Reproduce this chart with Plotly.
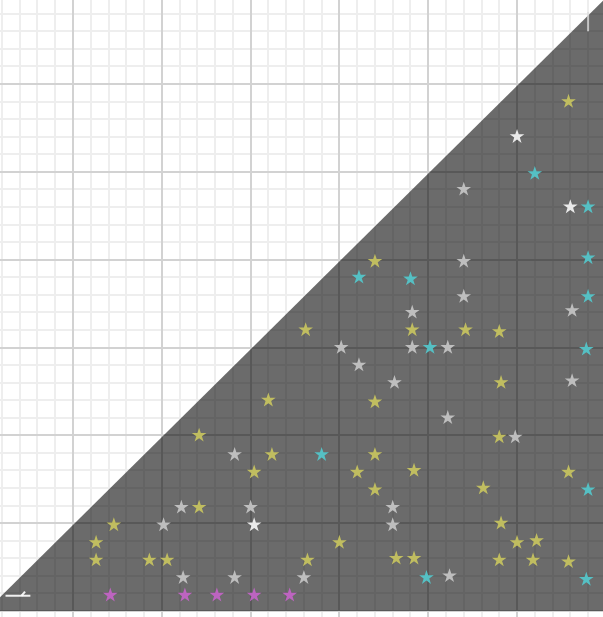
import plotly.graph_objects as go

# star positions (1 unit = one minor grid step)
yellow_x = [27.9, 17.0, 13.1, 19.1, 22.1, 24.0, 24.1, 11.0, 17.0, 7.1, 24.0, 11.2, 17.0, 10.2, 16.0, 19.2,
            27.9, 17.0, 23.1, 7.1, 2.3, 24.1, 1.3, 15.0, 25.0, 26.1, 1.3, 4.3, 5.3, 13.2, 18.2, 19.2,
            24.0, 25.9, 27.9]
yellow_y = [29.0, 19.9, 16.0, 16.0, 16.0, 15.9, 13.0, 12.0, 11.9, 10.0, 9.9, 8.9, 8.9, 7.9, 7.9, 8.0,
            7.9, 6.9, 7.0, 5.9, 4.9, 5.0, 3.9, 3.9, 3.9, 4.0, 2.9, 2.9, 2.9, 2.9, 3.0, 3.0,
            2.9, 2.9, 2.8]

grey_x = [22.0, 22.0, 22.0, 19.1, 28.1, 15.1, 19.1, 21.1, 16.1, 18.1, 28.1, 21.1, 24.9, 9.1, 6.1, 10.0,
          18.0, 5.1, 18.0, 6.2, 9.1, 13.0, 21.2]
grey_y = [24.0, 19.9, 17.9, 17.0, 17.1, 15.0, 15.0, 15.0, 14.0, 13.0, 13.1, 11.0, 9.9, 8.9, 5.9, 5.9,
          5.9, 4.9, 4.9, 1.9, 1.9, 1.9, 2.0]

white_x = [25.0, 28.0, 10.2]
white_y = [27.0, 23.0, 4.9]

cyan_x = [26.0, 29.0, 29.0, 16.1, 19.0, 29.0, 20.1, 28.9, 14.0, 29.0, 19.9, 28.9]
cyan_y = [24.9, 23.0, 20.1, 19.0, 18.9, 17.9, 15.0, 14.9, 8.9, 6.9, 1.9, 1.8]

magenta_x = [2.1, 6.3, 8.1, 10.2, 12.2]
magenta_y = [0.9, 0.9, 0.9, 0.9, 0.9]

# dark triangle under the diagonal
tri_x = [-4.9, 31.0, 31.0, -4.9]
tri_y = [0.0, 35.9, 0.0, 0.0]

# small axis marks (bottom left, top right)
mark1_x = [-3.8, -2.4, None, -2.9, -2.7]
mark1_y = [0.87, 0.87, None, 0.87, 1.1]
mark2_x = [29.0, 29.0]
mark2_y = [34.1, 33.0]

fig = go.Figure()

fig.add_trace(go.Scatter(x=tri_x, y=tri_y, fill="toself", mode="lines",
                         fillcolor="rgba(0,0,0,0.58)", line=dict(width=0),
                         hoverinfo="skip"))

fig.add_trace(go.Scatter(x=mark1_x, y=mark1_y, mode="lines",
                         line=dict(color="rgba(255,255,255,0.9)", width=2)))
fig.add_trace(go.Scatter(x=mark2_x, y=mark2_y, mode="lines",
                         line=dict(color="rgba(220,220,220,0.8)", width=2)))

stars = [
    (yellow_x, yellow_y, "rgb(200,196,96)"),
    (grey_x, grey_y, "rgb(198,198,198)"),
    (white_x, white_y, "rgb(245,245,245)"),
    (cyan_x, cyan_y, "rgb(84,200,204)"),
    (magenta_x, magenta_y, "rgb(196,100,200)"),
]
for sx, sy, col in stars:
    fig.add_trace(go.Scatter(x=sx, y=sy, mode="markers",
                             marker=dict(symbol="star", size=11, color=col,
                                         opacity=0.92, line=dict(width=0))))

fig.update_layout(
    width=603, height=617,
    margin=dict(l=0, r=0, t=0, b=0),
    paper_bgcolor="white", plot_bgcolor="white",
    showlegend=False,
)
fig.update_xaxes(range=[-4.11, 29.84], tick0=0, dtick=5, showticklabels=False,
                 gridcolor="#d2d2d2", gridwidth=1.5, zeroline=False,
                 minor=dict(dtick=1, showgrid=True, gridcolor="#eeeeee"))
fig.update_yaxes(range=[-0.34, 34.78], tick0=0, dtick=5, showticklabels=False,
                 gridcolor="#d2d2d2", gridwidth=1.5, zeroline=False,
                 minor=dict(dtick=1, showgrid=True, gridcolor="#eeeeee"))

fig.write_html("out.html", config={"displayModeBar": False},
               post_script="document.body.style.margin='0';")
